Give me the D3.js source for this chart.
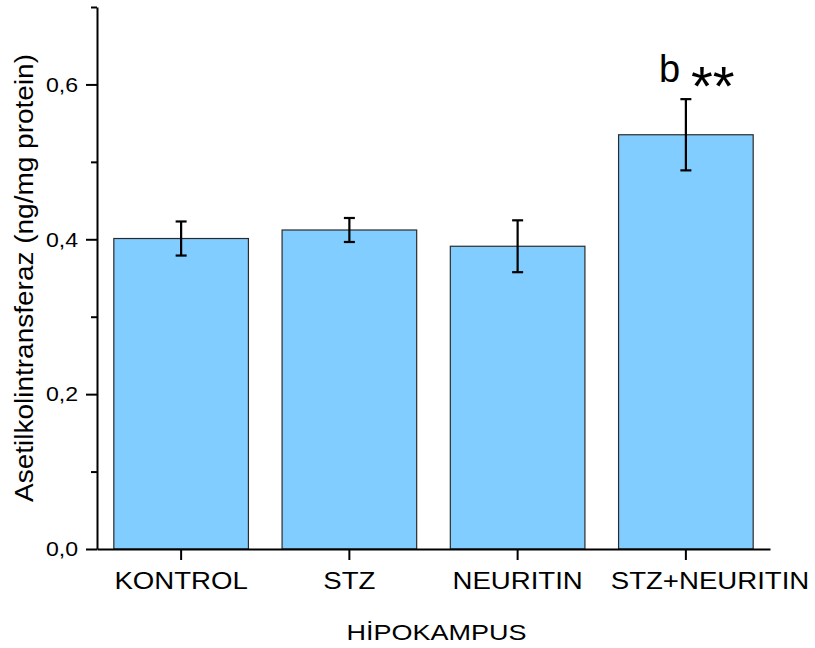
<!DOCTYPE html>
<html>
<head>
<meta charset="utf-8">
<script src="https://cdn.jsdelivr.net/npm/d3@7"></script>
<style>
  html, body { margin: 0; padding: 0; background: #fff; }
  svg { display: block; font-family: "Liberation Sans", Arial, sans-serif; }
</style>
</head>
<body>
<svg id="chart" width="815" height="648"></svg>
<script>
// Hippocampal acetylcholine transferase by group (mean ± error)
const categories = ["KONTROL", "STZ", "NEURITIN", "STZ+NEURITIN"];
const means = [0.401, 0.412, 0.391, 0.535];
const errors = [0.022, 0.0155, 0.0335, 0.046];
const majorTicks = [0, 0.2, 0.4, 0.6];
const minorTicks = [0.1, 0.3, 0.5, 0.7];
const annotations = [null, null, null, { letter: "b", stars: "**" }];
const yTitle = "Asetilkolintransferaz (ng/mg protein)";
const xTitle = "HİPOKAMPUS";

const svg = d3.select("#chart");
const plotLeft = 97, plotRight = 770, plotTop = 7, plotBottom = 549;
const stretch = 1.2; // horizontal widening of the lettering

const x = d3.scaleBand().domain(categories).range([plotLeft, plotRight])
  .paddingInner(0.2).paddingOuter(0.1);
const y = d3.scaleLinear().domain([0, 0.7]).range([plotBottom, plotTop]);

// bars
svg.append("g").selectAll("rect").data(categories).join("rect")
  .attr("x", d => x(d))
  .attr("y", (d, i) => y(means[i]))
  .attr("width", x.bandwidth())
  .attr("height", (d, i) => y(0) - y(means[i]))
  .attr("fill", "#82CDFF")
  .attr("stroke", "#2b2b2b")
  .attr("stroke-width", 1.2);

// error bars
const eb = svg.append("g").attr("stroke", "#000").attr("stroke-width", 2.2);
categories.forEach((c, i) => {
  const cx = x(c) + x.bandwidth() / 2;
  const y1 = y(means[i] + errors[i]), y2 = y(means[i] - errors[i]);
  eb.append("line").attr("x1", cx).attr("x2", cx).attr("y1", y1).attr("y2", y2);
  eb.append("line").attr("x1", cx - 5.5).attr("x2", cx + 5.5).attr("y1", y1).attr("y2", y1);
  eb.append("line").attr("x1", cx - 5.5).attr("x2", cx + 5.5).attr("y1", y2).attr("y2", y2);
});

// significance marks above the error bar
categories.forEach((c, i) => {
  const a = annotations[i];
  if (!a) return;
  const cx = x(c) + x.bandwidth() / 2;
  const by = y(means[i] + errors[i]) - 17;
  const t = svg.append("text")
    .attr("x", cx - 27).attr("y", by)
    .attr("font-size", 38).attr("fill", "#000");
  t.append("tspan").text(a.letter);
  t.append("tspan").attr("dx", 11).attr("dy", 23).attr("font-size", 56).text(a.stars);
});

// y axis: major and minor ticks
const fmt = d => d3.format(".1f")(d).replace(".", ",");
const yAxis = svg.append("g").attr("transform", `translate(${plotLeft},0)`)
  .call(d3.axisLeft(y).tickValues(majorTicks).tickFormat(fmt).tickSize(11).tickSizeOuter(0));
svg.append("g").attr("transform", `translate(${plotLeft},0)`)
  .call(d3.axisLeft(y).tickValues(minorTicks).tickFormat("").tickSize(6).tickSizeOuter(0))
  .select(".domain").remove();

// x axis
const xAxis = svg.append("g").attr("transform", `translate(0,${plotBottom})`)
  .call(d3.axisBottom(x).tickSize(11).tickSizeOuter(0));

svg.selectAll(".tick line, .domain").attr("stroke", "#000").attr("stroke-width", 2);

yAxis.selectAll(".tick text")
  .attr("font-size", 21).attr("font-family", "Liberation Sans, Arial, sans-serif")
  .attr("fill", "#000")
  .attr("x", -19 / 1.1).attr("transform", "scale(1.1,1)");

xAxis.selectAll(".tick text")
  .attr("font-size", 23).attr("font-family", "Liberation Sans, Arial, sans-serif")
  .attr("fill", "#000")
  .attr("dy", 0).attr("y", 40)
  .attr("transform", `scale(${stretch},1)`);

// push a category label right when it would crowd the one before it
const minGap = 28;
let prevRight = -Infinity;
xAxis.selectAll(".tick").each(function () {
  const g = d3.select(this);
  const text = g.select("text");
  const tx = +g.attr("transform").match(/translate\(([-\d.]+)/)[1];
  const w = text.node().getComputedTextLength() * stretch;
  let leftEdge = tx - w / 2;
  if (leftEdge < prevRight + minGap) {
    const shift = prevRight + minGap - leftEdge;
    text.attr("x", shift / stretch);
    leftEdge += shift;
  }
  prevRight = leftEdge + w;
});

// axis titles
svg.append("text")
  .attr("transform", `translate(${(plotLeft + plotRight) / 2 + 3},${639.5}) scale(${stretch},1)`)
  .attr("text-anchor", "middle").attr("font-size", 22.5).attr("fill", "#000")
  .text(xTitle);

svg.append("text")
  .attr("transform", `translate(33,${(plotTop + plotBottom) / 2}) rotate(-90) scale(1.12,1)`)
  .attr("text-anchor", "middle").attr("font-size", 25).attr("fill", "#000")
  .text(yTitle);
</script>
</body>
</html>
